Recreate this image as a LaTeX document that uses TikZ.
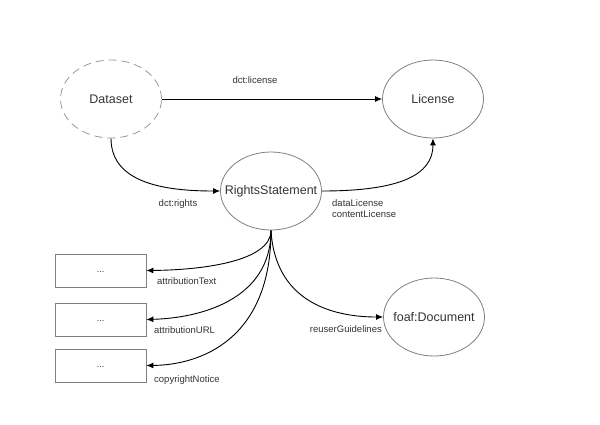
\documentclass[tikz,border=0pt]{standalone}
\usepackage{fontspec}
\setmainfont{Liberation Sans}
\usetikzlibrary{arrows.meta,shapes.geometric}
\definecolor{txt}{HTML}{333333}
\definecolor{bord}{HTML}{808080}
\newcommand{\zw}[1]{\makebox[0pt]{#1}}
\tikzset{
  ent/.style={ellipse, draw=bord, line width=0.8pt, minimum width=101pt, minimum height=78pt, inner sep=0pt, text=txt, font=\fontsize{12.5}{14}\selectfont},
  valbox/.style={rectangle, draw=bord, line width=0.8pt, minimum width=91pt, minimum height=33pt, inner sep=0pt, text=txt, font=\fontsize{9}{10}\selectfont},
  lbl/.style={text=txt, inner sep=0pt, font=\fontsize{9.5}{11.5}\selectfont},
  rel/.style={draw=black, line width=0.9pt, -{Latex[length=7pt,width=6pt]}}
}
\begin{document}
\begin{tikzpicture}[x=1pt,y=-1pt]
\useasboundingbox (0,0) rectangle (600,424);
\node[ent, draw=bord!80, dash pattern=on 8pt off 5pt] (ds) at (111,99) {\zw{Dataset}};
\node[ent] (lic) at (433,99) {\zw{License}};
\node[ent] (rs) at (271,191) {\zw{RightsStatement}};
\node[ent] (foaf) at (434,317) {\zw{foaf:Document}};
\node[valbox] (b1) at (100.5,270.5) {\raisebox{-3pt}{...}};
\node[valbox] (b2) at (100.5,319.5) {\raisebox{-3pt}{...}};
\node[valbox] (b3) at (100.5,365.5) {\raisebox{-3pt}{...}};

\draw[rel] (ds.east) -- (lic.west);
\draw[rel] (ds.south) .. controls (111,185) and (170,191) .. (rs.west);
\draw[rel] (rs.east) .. controls (400,191) and (433,175) .. (lic.south);
\draw[rel] (rs.south) .. controls (271,262) and (200,270) .. (b1.east);
\draw[rel] (rs.south) .. controls (271,300) and (200,318) .. (b2.east);
\draw[rel] (rs.south) .. controls (271,340) and (200,365) .. (b3.east);
\draw[rel] (rs.south) .. controls (275,300) and (330,317) .. (foaf.west);

\node[lbl] (l1) at (255,80) {dct:license};
\node[lbl] (l2) at (178,204) {dct:rights};
\node[lbl, anchor=west, align=left] (l3) at (332,208.5) {dataLicense\\contentLicense};
\node[lbl, anchor=west] (l4) at (157,281) {attributionText};
\node[lbl, anchor=west] (l5) at (154,330) {attributionURL};
\node[lbl, anchor=west] (l6) at (154,380) {copyrightNotice};
\node[lbl, anchor=east] (l7) at (382,329) {reuserGuidelines};
\end{tikzpicture}
\end{document}
